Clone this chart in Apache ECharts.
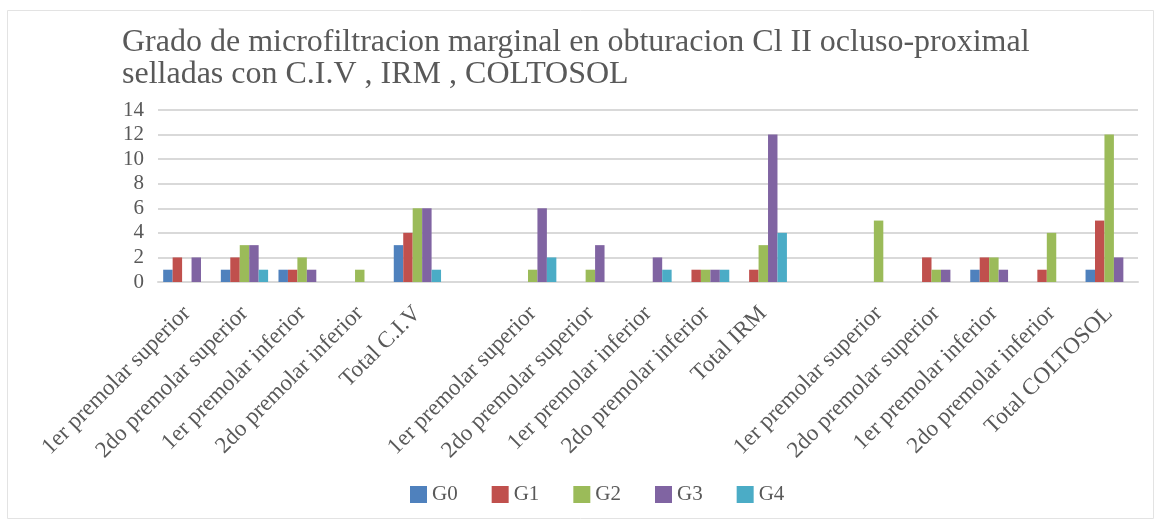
<!DOCTYPE html>
<html>
<head>
<meta charset="utf-8">
<script src="https://cdn.jsdelivr.net/npm/echarts@6/dist/echarts.min.js"></script>
<style>
  html, body { margin: 0; padding: 0; background: #fff; }
  #main { width: 1161px; height: 527px; }
</style>
</head>
<body>
<div id="main"></div>
<script>
// categorias (los vacios separan los grupos)
var categorias = [
  '1er premolar superior', '2do premolar superior', '1er premolar inferior', '2do premolar inferior', 'Total C.I.V',
  ' ',
  '1er premolar superior', '2do premolar superior', '1er premolar inferior', '2do premolar inferior', 'Total IRM',
  '  ',
  '1er premolar superior', '2do premolar superior', '1er premolar inferior', '2do premolar inferior', 'Total COLTOSOL'
]
var g0 = [1, 1, 1, 0, 3, 0, 0, 0, 0, 0, 0, 0, 0, 0, 1, 0, 1]
var g1 = [2, 2, 1, 0, 4, 0, 0, 0, 0, 1, 1, 0, 0, 2, 2, 1, 5]
var g2 = [0, 3, 2, 1, 6, 0, 1, 1, 0, 1, 3, 0, 5, 1, 2, 4, 12]
var g3 = [2, 3, 1, 0, 6, 0, 6, 3, 2, 1, 12, 0, 0, 1, 1, 0, 2]
var g4 = [0, 1, 0, 0, 1, 0, 2, 0, 1, 1, 4, 0, 0, 0, 0, 0, 0]
var nombres = ['G0', 'G1', 'G2', 'G3', 'G4']
var colores = ['#4f81bd', '#c0504d', '#9bbb59', '#8064a2', '#4bacc6']

var fuente = '"Liberation Serif", "Times New Roman", serif'
var chart = echarts.init(document.getElementById('main'))

var series = [g0, g1, g2, g3, g4].map(function (d, i) {
  return {
    name: nombres[i],
    type: 'bar',
    data: d,
    barGap: '0%',
    barCategoryGap: '18%',
    itemStyle: { color: colores[i] }
  }
})

chart.setOption({
  animation: false,
  color: colores,
  graphic: [{
    type: 'rect',
    shape: { x: 7.5, y: 10.5, width: 1146, height: 508 },
    style: { fill: 'none', stroke: '#e3e3e3', lineWidth: 1 },
    silent: true
  }],
  title: {
    text: 'Grado de microfiltracion marginal en obturacion Cl II ocluso-proximal\nselladas con C.I.V , IRM , COLTOSOL',
    left: 117,
    top: 22,
    textStyle: {
      fontFamily: fuente,
      fontSize: 32,
      fontWeight: 'normal',
      color: '#595959',
      lineHeight: 32
    }
  },
  legend: {
    data: nombres,
    bottom: 17,
    left: 405,
    itemWidth: 17,
    itemHeight: 17,
    itemGap: 34,
    icon: 'rect',
    textStyle: { fontFamily: fuente, fontSize: 21, color: '#595959' }
  },
  grid: {
    left: 158,
    right: 23,
    top: 110,
    bottom: 245,
    containLabel: false
  },
  xAxis: {
    type: 'category',
    data: categorias,
    axisTick: { show: false },
    axisLine: { lineStyle: { color: '#d9d9d9', width: 2 } },
    axisLabel: {
      interval: 0,
      rotate: 45,
      margin: 28,
      fontFamily: fuente,
      fontSize: 23,
      color: '#595959'
    }
  },
  yAxis: {
    type: 'value',
    min: 0,
    max: 14,
    interval: 2,
    axisLine: { show: false },
    axisTick: { show: false },
    splitLine: { lineStyle: { color: '#d9d9d9', width: 2 } },
    axisLabel: {
      margin: 14,
      fontFamily: fuente,
      fontSize: 21,
      color: '#595959'
    }
  },
  series: series
})
</script>
</body>
</html>
